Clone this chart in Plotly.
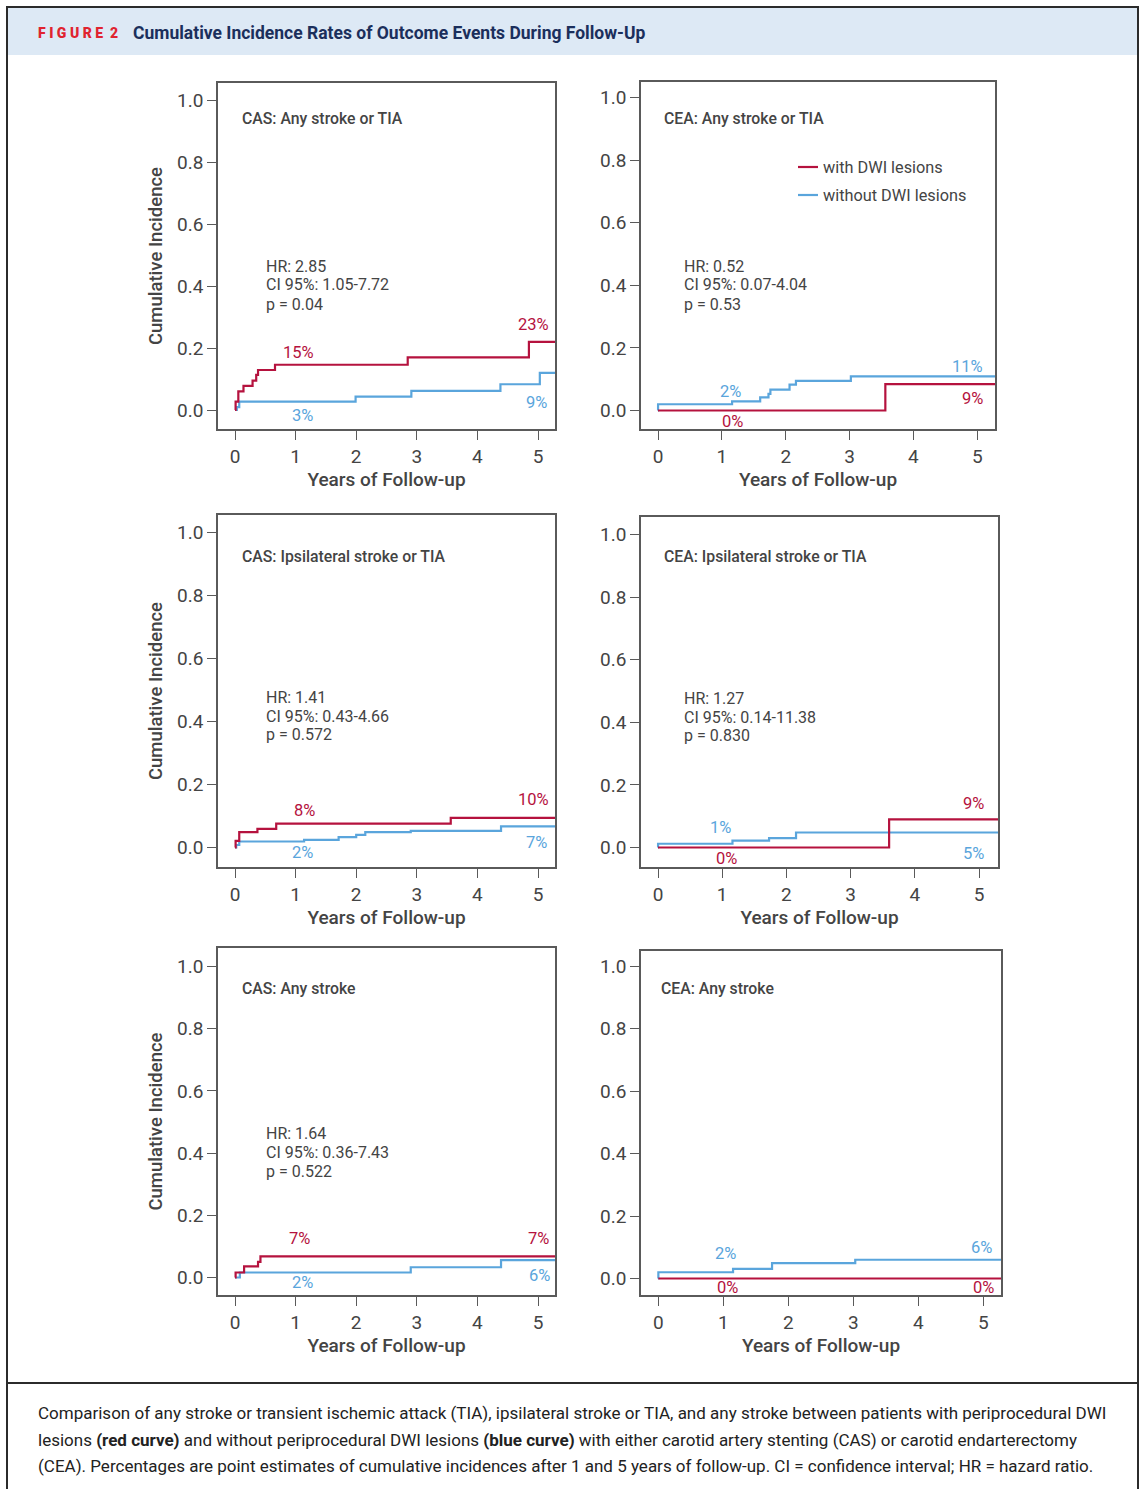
import plotly.graph_objects as go

# ---------------- data ----------------
panel_titles = ["CAS: Any stroke or TIA", "CEA: Any stroke or TIA",
                "CAS: Ipsilateral stroke or TIA", "CEA: Ipsilateral stroke or TIA",
                "CAS: Any stroke", "CEA: Any stroke"]

# with DWI lesions (red)
red_t = [
    [0, 0.01, 0.055, 0.14, 0.29, 0.35, 0.38, 0.66, 2.85, 4.85, 5.5],
    [0, 3.56, 5.5],
    [0, 0.01, 0.07, 0.37, 0.68, 3.56, 5.5],
    [0, 3.60, 5.5],
    [0, 0.01, 0.15, 0.38, 0.42, 5.5],
    [0, 5.5],
]
red_y = [
    [0, 0.027, 0.060, 0.078, 0.095, 0.113, 0.129, 0.146, 0.170, 0.220, 0.220],
    [0, 0.084, 0.084],
    [0, 0.021, 0.049, 0.059, 0.076, 0.094, 0.094],
    [0, 0.090, 0.090],
    [0, 0.016, 0.036, 0.050, 0.068, 0.068],
    [0, 0],
]
# without DWI lesions (blue)
blue_t = [
    [0, 0.03, 0.07, 1.99, 2.91, 4.38, 5.03, 5.5],
    [0, 0.001, 1.16, 1.60, 1.73, 1.76, 2.06, 2.16, 3.02, 5.5],
    [0, 0.02, 0.07, 1.14, 1.71, 2.00, 2.15, 2.90, 4.39, 5.5],
    [0, 0.001, 1.16, 1.73, 2.15, 5.5],
    [0, 0.08, 2.90, 4.39, 5.5],
    [0, 0.001, 1.15, 1.75, 3.03, 5.5],
]
blue_y = [
    [0, 0.009, 0.027, 0.043, 0.062, 0.083, 0.120, 0.120],
    [0, 0.020, 0.029, 0.042, 0.053, 0.067, 0.083, 0.095, 0.109, 0.109],
    [0, 0.008, 0.019, 0.024, 0.033, 0.040, 0.049, 0.053, 0.067, 0.067],
    [0, 0.012, 0.022, 0.030, 0.048, 0.048],
    [0, 0.016, 0.033, 0.056, 0.056],
    [0, 0.020, 0.031, 0.049, 0.060, 0.060],
]

stats_text = [
    ["HR: 2.85", "CI 95%: 1.05-7.72", "p = 0.04"],
    ["HR: 0.52", "CI 95%: 0.07-4.04", "p = 0.53"],
    ["HR: 1.41", "CI 95%: 0.43-4.66", "p = 0.572"],
    ["HR: 1.27", "CI 95%: 0.14-11.38", "p = 0.830"],
    ["HR: 1.64", "CI 95%: 0.36-7.43", "p = 0.522"],
    None,
]

# percent labels: (text, series)
pct_labels = [
    [("15%", "red"), ("23%", "red"), ("3%", "blue"), ("9%", "blue")],
    [("2%", "blue"), ("11%", "blue"), ("9%", "red"), ("0%", "red")],
    [("8%", "red"), ("10%", "red"), ("2%", "blue"), ("7%", "blue")],
    [("1%", "blue"), ("9%", "red"), ("0%", "red"), ("5%", "blue")],
    [("7%", "red"), ("7%", "red"), ("2%", "blue"), ("6%", "blue")],
    [("2%", "blue"), ("6%", "blue"), ("0%", "red"), ("0%", "red")],
]

x_ticks = [0, 1, 2, 3, 4, 5]
y_ticks = [0.0, 0.2, 0.4, 0.6, 0.8, 1.0]
series_names = {"red": "with DWI lesions", "blue": "without DWI lesions"}

# ---------------- layout / style ----------------
W, H = 1142, 1489
RED = "#b5123e"
BLUE = "#5aa5dc"
TXT = "#444444"
AX = "#5a5a5a"
FONT = "Roboto"

# panel geometry in pixels: box (l, r, t, b), pixel of x=0, x=5, y=0, y=1
geom = [
    dict(box=(218, 555, 83, 429), x0=235, x5=538, y0=410, y1=100),
    dict(box=(641, 995, 82, 429), x0=658, x5=977.3, y0=410.5, y1=97.7),
    dict(box=(218, 555, 515, 867), x0=235, x5=538, y0=847.5, y1=532.5),
    dict(box=(641, 998, 517, 867), x0=658, x5=979, y0=847.5, y1=534.5),
    dict(box=(218, 555, 948, 1295), x0=235, x5=538, y0=1277.5, y1=966.5),
    dict(box=(641, 1001, 951, 1295), x0=658.3, x5=983.3, y0=1278.5, y1=966.3),
]
# label placement (year, value) per panel, same order as pct_labels
pct_pos = [
    [(1.04, 0.184), (4.92, 0.277), (1.11, -0.019), (4.97, 0.023)],
    [(1.14, 0.062), (4.84, 0.142), (4.93, 0.037), (1.17, -0.034)],
    [(1.14, 0.119), (4.92, 0.151), (1.11, -0.017), (4.97, 0.017)],
    [(0.97, 0.065), (4.92, 0.139), (1.07, -0.034), (4.91, -0.018)],
    [(1.06, 0.124), (5.00, 0.124), (1.12, -0.015), (5.02, 0.005)],
    [(1.04, 0.079), (4.97, 0.098), (1.06, -0.028), (5.00, -0.028)],
]
title_px = [(242, 119), (664, 119), (242, 556), (664, 556), (242, 988), (661, 988)]
stats_px = [(266, 266), (684, 266), (266, 697), (684, 698), (266, 1133), None]


def px(x):
    return x / W


def py(y):
    return 1 - y / H


fig = go.Figure()
annotations = []
shapes = []
layout = {}

for i in range(6):
    g = geom[i]
    l, r, t, b = g["box"]
    sx = (g["x5"] - g["x0"]) / 5.0
    sy = (g["y0"] - g["y1"])
    xr = [(l - g["x0"]) / sx, (r - g["x0"]) / sx]
    yr = [(g["y0"] - b) / sy, (g["y0"] - t) / sy]
    xa = "xaxis" if i == 0 else f"xaxis{i+1}"
    ya = "yaxis" if i == 0 else f"yaxis{i+1}"
    xref = "x" if i == 0 else f"x{i+1}"
    yref = "y" if i == 0 else f"y{i+1}"

    common = dict(showline=True, mirror=True, linecolor=AX, linewidth=1.6,
                  ticks="outside", ticklen=9, tickwidth=1.4, tickcolor=AX,
                  showgrid=False, zeroline=False, fixedrange=True,
                  tickfont=dict(family=FONT, size=19, color=TXT))
    layout[xa] = dict(common, domain=[px(l), px(r)], range=xr, anchor=yref,
                      tickvals=x_ticks, ticktext=[str(v) for v in x_ticks],
                      title=dict(text="Years of Follow-up",
                                 font=dict(family=FONT, size=19, color=TXT, weight=500),
                                 standoff=6))
    ytitle = dict(text="Cumulative Incidence",
                  font=dict(family=FONT, size=18.5, color=TXT, weight=500),
                  standoff=10) if i % 2 == 0 else dict(text="")
    layout[ya] = dict(common, domain=[py(b), py(t)], range=yr, anchor=xref,
                      tickvals=y_ticks, ticktext=[f"{v:.1f}" for v in y_ticks],
                      title=ytitle)

    fig.add_trace(go.Scatter(x=blue_t[i], y=blue_y[i], mode="lines", line_shape="hv",
                             line=dict(color=BLUE, width=2.2), name=series_names["blue"],
                             showlegend=False, xaxis=xref, yaxis=yref))
    fig.add_trace(go.Scatter(x=red_t[i], y=red_y[i], mode="lines", line_shape="hv",
                             line=dict(color=RED, width=2.2), name=series_names["red"],
                             showlegend=False, xaxis=xref, yaxis=yref))

    # panel title
    tx, ty = title_px[i]
    annotations.append(dict(xref="paper", yref="paper", x=px(tx), y=py(ty), xshift=-2,
                            xanchor="left", yanchor="middle", showarrow=False,
                            text=panel_titles[i],
                            font=dict(family=FONT, size=15.8, color=TXT, weight=500)))
    # stats
    if stats_text[i] is not None:
        sxp, syp = stats_px[i]
        for k, line in enumerate(stats_text[i]):
            annotations.append(dict(xref="paper", yref="paper", x=px(sxp), xshift=-2,
                                    y=py(syp + 19 * k), xanchor="left", yanchor="middle",
                                    showarrow=False, text=line,
                                    font=dict(family=FONT, size=16, color=TXT)))
    # percent labels
    for (txt, ser), (lx, ly) in zip(pct_labels[i], pct_pos[i]):
        annotations.append(dict(xref=xref, yref=yref, x=lx, y=ly, xanchor="center",
                                yanchor="middle", showarrow=False, text=txt,
                                font=dict(family=FONT, size=16.5,
                                          color=RED if ser == "red" else BLUE)))

# legend (panel 2)
for k, (ser, col) in enumerate([("red", RED), ("blue", BLUE)]):
    yy = 167 + 28 * k
    shapes.append(dict(type="line", xref="paper", yref="paper", x0=px(798), x1=px(818),
                       y0=py(yy), y1=py(yy), line=dict(color=col, width=2.2)))
    annotations.append(dict(xref="paper", yref="paper", x=px(823), y=py(yy), xshift=-2,
                            xanchor="left", yanchor="middle", showarrow=False,
                            text=series_names[ser],
                            font=dict(family=FONT, size=16.3, color=TXT)))

# frame and header
shapes.append(dict(type="rect", xref="paper", yref="paper", x0=px(7), x1=px(1138),
                   y0=py(55), y1=py(8), fillcolor="#dde9f5", line=dict(width=0), layer="below"))
frame_col = "#2b2b2b"
shapes.append(dict(type="line", xref="paper", yref="paper", x0=px(6), x1=px(1139),
                   y0=py(7), y1=py(7), line=dict(color=frame_col, width=2)))
shapes.append(dict(type="line", xref="paper", yref="paper", x0=px(7), x1=px(7),
                   y0=py(7), y1=py(1489), line=dict(color=frame_col, width=2)))
shapes.append(dict(type="line", xref="paper", yref="paper", x0=px(1138), x1=px(1138),
                   y0=py(7), y1=py(1489), line=dict(color=frame_col, width=2)))
shapes.append(dict(type="line", xref="paper", yref="paper", x0=px(7), x1=px(1138),
                   y0=py(1383), y1=py(1383), line=dict(color=frame_col, width=2)))

annotations.append(dict(xref="paper", yref="paper", x=px(38), y=py(33), xshift=-2,
                        xanchor="left", yanchor="middle", showarrow=False,
                        text="F I G U R E  2",
                        font=dict(family=FONT, size=14, color="#e0232f", weight=900)))
annotations.append(dict(xref="paper", yref="paper", x=px(133), y=py(33), xshift=-2,
                        xanchor="left", yanchor="middle", showarrow=False,
                        text="Cumulative Incidence Rates of Outcome Events During Follow-Up",
                        font=dict(family=FONT, size=17.5, color="#1b2f5c", weight=700)))

caption = [
    "Comparison of any stroke or transient ischemic attack (TIA), ipsilateral stroke or TIA, and any stroke between patients with periprocedural DWI",
    "lesions <b>(red curve)</b> and without periprocedural DWI lesions <b>(blue curve)</b> with either carotid artery stenting (CAS) or carotid endarterectomy",
    "(CEA). Percentages are point estimates of cumulative incidences after 1 and 5 years of follow-up. CI = confidence interval; HR = hazard ratio.",
]
for k, line in enumerate(caption):
    annotations.append(dict(xref="paper", yref="paper", x=px(38), y=py(1413 + 26.5 * k),
                            xshift=-2, xanchor="left", yanchor="middle", showarrow=False,
                            text=line, font=dict(family=FONT, size=17, color="#222222")))

fig.update_layout(width=W, height=H, margin=dict(l=0, r=0, t=0, b=0),
                  paper_bgcolor="white", plot_bgcolor="white",
                  showlegend=False, annotations=annotations, shapes=shapes,
                  font=dict(family=FONT, color=TXT), **layout)

fig.write_html("out.html", config={"displayModeBar": False},
               post_script="document.body.style.margin='0px';document.body.style.overflow='hidden';")
